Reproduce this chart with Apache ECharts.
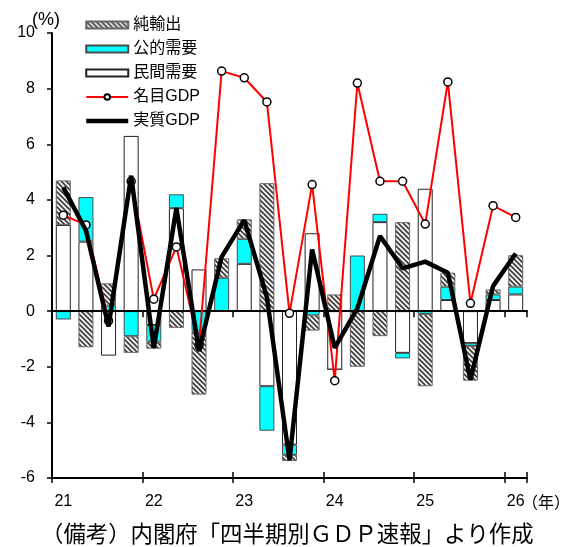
<!DOCTYPE html>
<html>
<head>
<meta charset="utf-8">
<script src="https://cdn.jsdelivr.net/npm/echarts@6/dist/echarts.min.js"></script>
<style>
html,body{margin:0;padding:0;background:#fff;}
#chart{width:575px;height:547px;}
</style>
</head>
<body>
<div id="chart"></div>
<script>
// ---- data ----
const categories = ['2021Q1','2021Q2','2021Q3','2021Q4','2022Q1','2022Q2','2022Q3','2022Q4',
  '2023Q1','2023Q2','2023Q3','2023Q4','2024Q1','2024Q2','2024Q3','2024Q4',
  '2025Q1','2025Q2','2025Q3','2025Q4','2026Q1'];
const yearLabels = ['21','22','23','24','25','26'];
const privateDemand = [3.1, 2.5, -1.6, 6.3, -0.5, 3.7, 1.5, 0.0, 1.7, -2.7, -4.8, 2.8, -2.1, 0.0, 3.2, -1.5, 4.4, 0.4, -1.15, 0.4, 0.6];
const publicDemand  = [-0.3, 1.6, 0.2, -0.9, -0.6, 0.5, -0.7, 1.2, 0.9, -1.6, -0.37, -0.15, 0.0, 2.0, 0.3, -0.2, -0.1, 0.48, -0.1, 0.2, 0.28];
const netExports    = [1.6, -1.3, 0.8, -0.6, -0.25, -0.6, -2.3, 0.7, 0.7, 4.6, -0.22, -0.55, 0.6, -2.0, -0.9, 3.2, -2.6, 0.5, -1.25, 0.18, 1.13];
const nominalGDP    = [3.45, 3.1, -0.35, 4.67, 0.43, 2.31, -1.24, 8.63, 8.39, 7.52, -0.08, 4.55, -2.5, 8.2, 4.67, 4.67, 3.13, 8.24, 0.28, 3.79, 3.37];
const realGDP       = [4.45, 2.9, -0.55, 4.87, -1.32, 3.7, -1.44, 1.95, 3.27, 0.5, -5.36, 2.22, -1.32, 0.1, 2.7, 1.54, 1.78, 1.38, -2.47, 0.9, 2.07];
const yTicks = {min: -6, max: 10, interval: 2};

// ---- hatch pattern ----
function makeHatch(){
  const s = 5;
  const c = document.createElement('canvas'); c.width = s; c.height = s;
  const g = c.getContext('2d');
  g.fillStyle = '#f2f2f2'; g.fillRect(0,0,s,s);
  g.strokeStyle = '#3c3c3c'; g.lineWidth = 1.6;
  g.beginPath();
  g.moveTo(-1,-1); g.lineTo(s+1,s+1);
  g.moveTo(-s-1,-1); g.lineTo(1,s+1);
  g.moveTo(s-1,-1); g.lineTo(2*s+1,s+1);
  g.stroke();
  return c;
}
const hatch = {image: makeHatch(), repeat: 'repeat'};

const numFont = '"Liberation Sans", Arial, sans-serif';
const jpFont = '"Liberation Sans", Arial, "Noto Sans CJK JP", sans-serif';

const chart = echarts.init(document.getElementById('chart'), null, {renderer: 'canvas'});
const border = '#4a4a4a';
const baseX = {
  type: 'category', data: categories, gridIndex: 0, position: 'bottom', boundaryGap: true
};
chart.setOption({
  animation: false,
  backgroundColor: '#fff',
  grid: {left: 52, right: 48, top: 33, bottom: 69, containLabel: false},
  legend: {
    orient: 'vertical', left: 84, top: 17, padding: 0,
    itemWidth: 42, itemHeight: 7, itemGap: 8,
    data: [
      {name: '純輸出', icon: 'rect'},
      {name: '公的需要', icon: 'rect'},
      {name: '民間需要', icon: 'rect'},
      {name: '名目GDP'},
      {name: '実質GDP', itemStyle: {opacity: 0}, lineStyle: {width: 4.5, color: '#000'}}
    ],
    textStyle: {fontSize: 16, color: '#000', fontFamily: jpFont}
  },
  xAxis: [
    Object.assign({}, baseX, {
      axisLine: {onZero: false, lineStyle: {color: '#000', width: 2}},
      axisTick: {show: true, interval: 3, length: 5, lineStyle: {color: '#000', width: 1.5}},
      axisLabel: {interval: 3, margin: 16, fontSize: 16, color: '#000', fontFamily: numFont,
        formatter: (v, i) => yearLabels[Math.floor(i / 4)]},
      splitLine: {show: false}
    }),
    Object.assign({}, baseX, {
      z: 3,
      axisLine: {onZero: true, lineStyle: {color: '#000', width: 2}},
      axisTick: {show: true, interval: 3, length: 6, inside: false, lineStyle: {color: '#000', width: 1.5}},
      axisLabel: {show: false}, splitLine: {show: false}
    }),
    Object.assign({}, baseX, {
      z: 3,
      axisLine: {onZero: true, lineStyle: {color: '#000', width: 2}},
      axisTick: {show: true, interval: 3, length: 6, inside: true, lineStyle: {color: '#000', width: 1.5}},
      axisLabel: {show: false}, splitLine: {show: false}
    })
  ],
  yAxis: {
    type: 'value', min: yTicks.min, max: yTicks.max, interval: yTicks.interval,
    axisLine: {show: true, onZero: false, lineStyle: {color: '#000', width: 2}},
    axisTick: {show: true, length: 5, lineStyle: {color: '#000', width: 1.5}},
    axisLabel: {margin: 17, fontSize: 16, color: '#000', fontFamily: numFont},
    splitLine: {show: false}
  },
  series: [
    {name: '民間需要', type: 'bar', stack: 'c', data: privateDemand, barWidth: 15, z: 2,
      itemStyle: {color: '#ffffff', borderColor: '#222', borderWidth: 1}},
    {name: '公的需要', type: 'bar', stack: 'c', data: publicDemand, barWidth: 15, z: 2,
      itemStyle: {color: '#00ffff', borderColor: border, borderWidth: 1}},
    {name: '純輸出', type: 'bar', stack: 'c', data: netExports, barWidth: 15, z: 2,
      itemStyle: {color: hatch, borderColor: '#666', borderWidth: 1}},
    {name: '名目GDP', type: 'line', data: nominalGDP, z: 4,
      symbol: 'circle', symbolSize: 8, showSymbol: true,
      lineStyle: {color: '#ff0000', width: 2},
      itemStyle: {color: '#ffffff', borderColor: '#000', borderWidth: 1.5}},
    {name: '実質GDP', type: 'line', data: realGDP, z: 5, zlevel: 1,
      symbol: 'none',
      lineStyle: {color: '#000', width: 4.5},
      itemStyle: {color: '#000'}}
  ],
  graphic: [
    {type: 'text', left: 32, top: 11, style: {text: '(%)', fontSize: 18, fill: '#000', fontFamily: numFont}},
    {type: 'text', left: 522, top: 494, style: {text: '（年）', fontSize: 16, fill: '#000', fontFamily: '"Noto Sans CJK JP", sans-serif'}},
    {type: 'text', left: 41, top: 522, style: {text: '（備考）内閣府「四半期別ＧＤＰ速報」より作成', fontSize: 22.4, fill: '#000', fontFamily: '"Noto Sans CJK JP", sans-serif'}}
  ]
});
</script>
</body>
</html>
